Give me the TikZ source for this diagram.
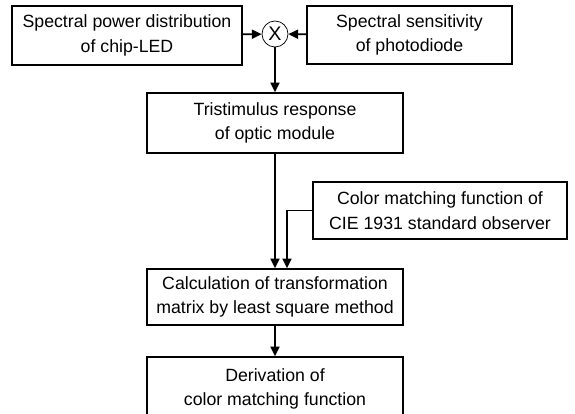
\documentclass[tikz,border=0pt]{standalone}
\usepackage{fontspec}
\setmainfont{Liberation Sans}
\usetikzlibrary{arrows.meta}

\begin{document}
\begin{tikzpicture}[
    x=0.025cm, y=-0.025cm,
    box/.style={rectangle, draw, line width=0.9pt, minimum height=1.5cm, align=center,
        font=\fontsize{12.6}{17.5}\selectfont, inner sep=0pt},
    mult/.style={circle, draw, line width=0.5pt, minimum size=0.65cm, inner sep=0pt,
        font=\fontsize{14}{14}\selectfont},
    arrow/.style={-{Triangle[length=7pt,width=6.5pt]}, line width=1.3pt}
]
\useasboundingbox (0,0) rectangle (575,414);

\node[box, minimum width=5.75cm, minimum height=1.475cm] (spd) at (127,35.5) {Spectral power distribution\\of chip-LED};
\node[mult] (times) at (275,34) {X};
\node[box, minimum width=5.125cm, minimum height=1.45cm] (sens) at (409.5,35) {Spectral sensitivity\\of photodiode};
\node[box, minimum width=6.4cm] (trist) at (275,123) {Tristimulus response\\of optic module};
\node[box, minimum width=6.35cm, minimum height=1.425cm] (cie) at (440,210.5) {Color matching function of\\CIE 1931 standard observer};
\node[box, minimum width=6.4cm, minimum height=1.4cm] (calc) at (275,297) {Calculation of transformation\\matrix by least square method};
\node[box, minimum width=6.4cm, minimum height=1.6cm] (deriv) at (275,389) {Derivation of\\color matching function};

\draw[arrow] (spd) -- (times);
\draw[arrow] (sens) -- (times);
\draw[arrow] (times) -- (trist);
\draw[arrow] (trist) -- (calc);
\draw[arrow] (cie.west) -| ([xshift=0.3cm]calc.north);
\draw[arrow] (calc) -- (deriv);

\end{tikzpicture}
\end{document}
